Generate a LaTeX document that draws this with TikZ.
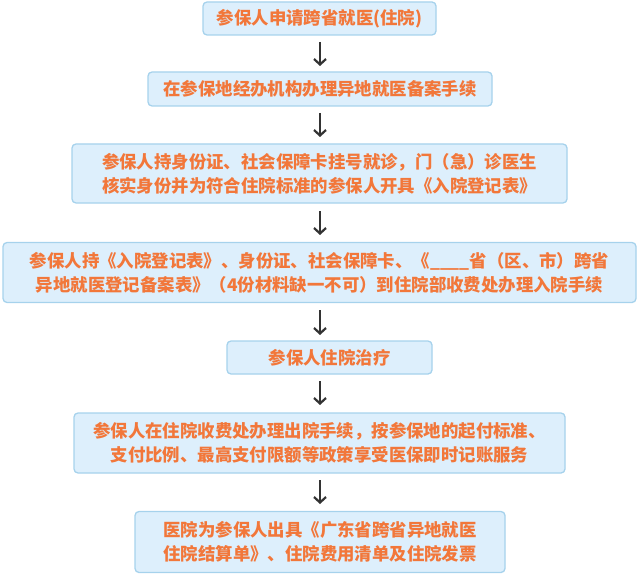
\documentclass[tikz,border=0pt]{standalone}
\usepackage{fontspec}
\newfontfamily\cjk{Noto Sans CJK SC}
\usepackage{tikz}
\usetikzlibrary{arrows.meta}
\definecolor{boxfill}{HTML}{DDEFFC}
\definecolor{boxline}{HTML}{A6D2EC}
\definecolor{steptext}{HTML}{F2773A}
\definecolor{arrowgray}{HTML}{333333}
\tikzset{
  flowbox/.style={draw=boxline, fill=boxfill, line width=1.3pt, rounded corners=4pt,
    inner sep=0pt, align=center, text=steptext,
    font=\cjk\bfseries\fontsize{17.4}{24}\selectfont},
  flowarrow/.style={draw=arrowgray, line width=2.2pt, -{Straight Barb[length=5.5pt,width=12pt]}}
}

\begin{document}
\begin{tikzpicture}[x=1pt,y=-1pt]
\useasboundingbox (0,0) rectangle (640,575);
\node[flowbox, minimum width=233, minimum height=33] (antrag) at (319.5,18.5) {参保人申请跨省就医(住院)};
\node[flowbox, minimum width=344, minimum height=34] (beantragung) at (320,89) {在参保地经办机构办理异地就医备案手续};
\node[flowbox, minimum width=495, minimum height=59] (anmeldung) at (319.5,173.5) {参保人持身份证、社会保障卡挂号就诊，门（急）诊医生\\核实身份并为符合住院标准的参保人开具《入院登记表》};
\node[flowbox, minimum width=633, minimum height=60] (aufnahme) at (319.5,272.5) {参保人持《入院登记表》、身份证、社会保障卡、《\_\_\_\_省（区、市）跨省\\异地就医登记备案表》（4份材料缺一不可）到住院部收费处办理入院手续};
\node[flowbox, minimum width=205, minimum height=33] (behandlung) at (329.5,357.5) {参保人住院治疗};
\node[flowbox, minimum width=491, minimum height=60] (entlassung) at (319.5,443) {参保人在住院收费处办理出院手续，按参保地的起付标准、\\支付比例、最高支付限额等政策享受医保即时记账服务};
\node[flowbox, minimum width=370, minimum height=61] (abrechnung) at (320,542) {医院为参保人出具《广东省跨省异地就医\\住院结算单》、住院费用清单及住院发票};

\coordinate (p1) at (320,42);   \coordinate (q1) at (320,66);
\coordinate (p2) at (320,113);  \coordinate (q2) at (320,137);
\coordinate (p3) at (320,211);  \coordinate (q3) at (320,235);
\coordinate (p4) at (320,310);  \coordinate (q4) at (320,335);
\coordinate (p5) at (320,381);  \coordinate (q5) at (320,405);
\coordinate (p6) at (320,480);  \coordinate (q6) at (320,504);
\foreach \i in {1,...,6}
  \draw[flowarrow] (p\i) -- (q\i);
\end{tikzpicture}
\end{document}
